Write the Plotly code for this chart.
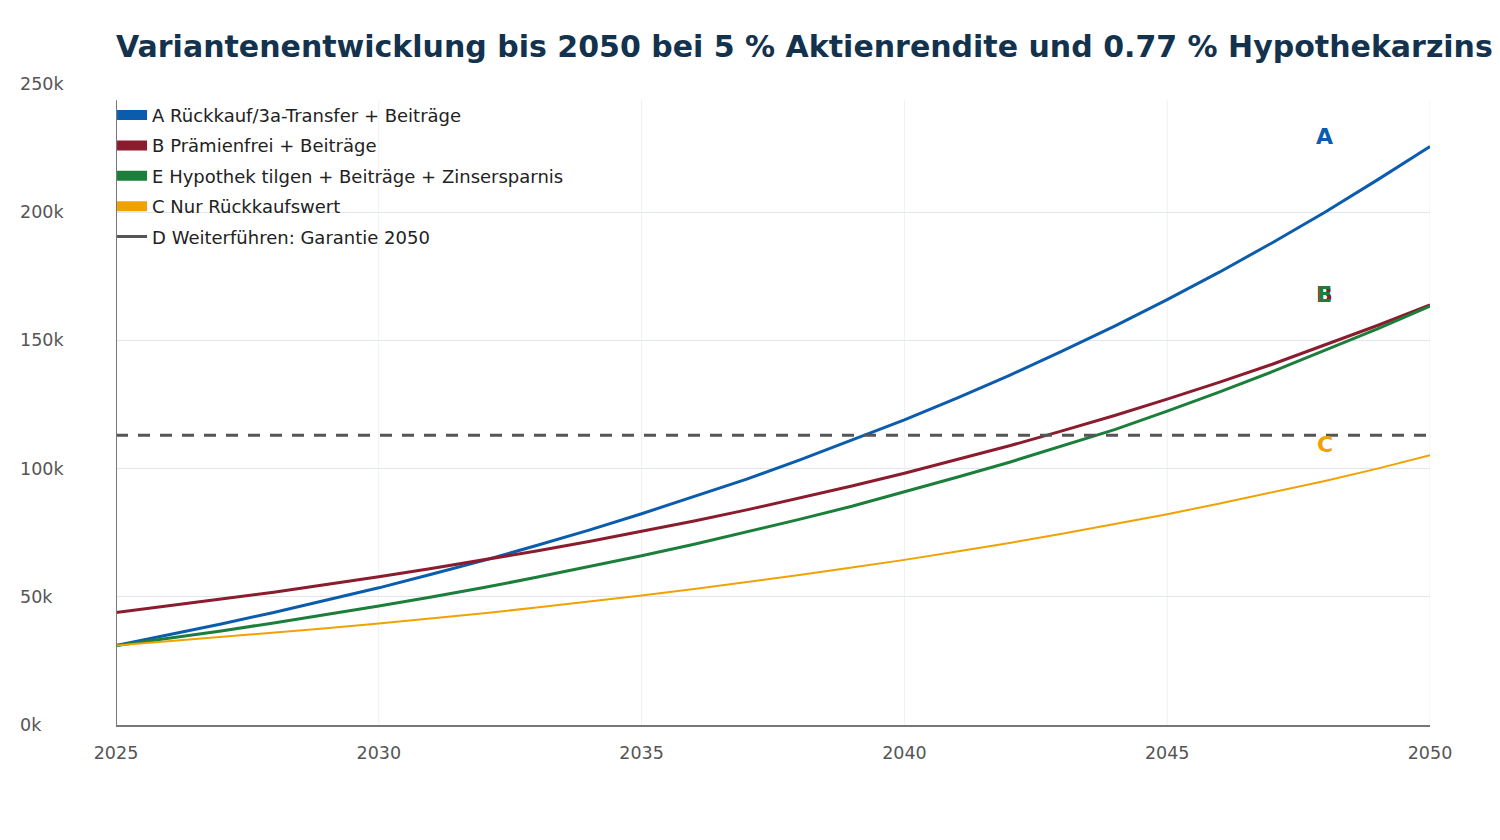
import plotly.graph_objects as go

# Jahresreihe 2025-2050, Werte in CHF
years = list(range(2025, 2051))

variante_a = [31000, 35100, 39400, 43900, 48600, 53500, 58800, 64200, 70000, 76000,
              82400, 89000, 95900, 103300, 111000, 119000, 127500, 136400, 145800, 155600,
              165900, 176700, 188100, 200000, 212600, 225600]
variante_b = [43900, 46400, 49100, 51800, 54700, 57800, 61000, 64400, 67900, 71600,
              75500, 79600, 83900, 88400, 93200, 98200, 103400, 108900, 114700, 120700,
              127100, 133700, 140700, 148100, 155800, 163800]
variante_e = [31000, 33800, 36700, 39800, 43000, 46400, 49900, 53600, 57600, 61700,
              66000, 70500, 75300, 80200, 85300, 90800, 96600, 102500, 108700, 115200,
              122400, 129900, 137800, 146100, 154500, 163400]
variante_c = [31000, 32600, 34200, 35900, 37700, 39600, 41500, 43600, 45800, 48100,
              50500, 53000, 55700, 58500, 61400, 64400, 67700, 71000, 74600, 78300,
              82200, 86400, 90700, 95200, 100000, 105200]
garantie_d = 113000

names = ["A Rückkauf/3a-Transfer + Beiträge",
         "B Prämienfrei + Beiträge",
         "E Hypothek tilgen + Beiträge + Zinsersparnis",
         "C Nur Rückkaufswert",
         "D Weiterführen: Garantie 2050"]
colors = ["#0b5cad", "#8a1c2e", "#1b7f3b", "#f0a202", "#555555"]

end_labels = ["A", "B", "E", "C"]
end_label_y = [229700, 168000, 168000, 109500]

y_ticks = [0, 50000, 100000, 150000, 200000, 250000]
y_tick_text = ["0k", "50k", "100k", "150k", "200k", "250k"]
x_ticks = [2025, 2030, 2035, 2040, 2045, 2050]

FONT = "DejaVu Sans"

fig = go.Figure()

series = [variante_a, variante_b, variante_e, variante_c]
widths = [3, 3, 3, 2]
for vals, name, col, w in zip(series, names, colors, widths):
    fig.add_trace(go.Scatter(x=years, y=vals, mode="lines", name=name,
                             line=dict(color=col, width=w), showlegend=False))

fig.add_trace(go.Scatter(x=years, y=[garantie_d] * len(years), mode="lines",
                         name=names[4], showlegend=False,
                         line=dict(color=colors[4], width=3, dash="12px,10px")))

# Legenden-Eintraege (dicke Balken wie im Original)
for i, (name, col) in enumerate(zip(names, colors)):
    fig.add_trace(go.Scatter(x=[None], y=[None], mode="lines", name=name,
                             legendgroup=f"g{i}",
                             line=dict(color=col, width=3 if i == 4 else 13)))

# Endbeschriftungen
for lab, yv, col in zip(end_labels, end_label_y, colors[:4]):
    fig.add_annotation(x=2048, y=yv, text=lab, showarrow=False,
                       font=dict(family=FONT, size=22, color=col, weight="bold"))

# y-Achsenbeschriftung linksbuendig
for v, t in zip(y_ticks, y_tick_text):
    fig.add_annotation(x=-0.0746, xref="paper", y=v, yref="y", text=t,
                       showarrow=False, xanchor="left", yanchor="middle",
                       font=dict(family=FONT, size=17.5, color="#555555"))

# vertikale Gitterlinien und linke Achse (enden unter der 250k-Linie)
grid_top = 243700
for xv in x_ticks[1:]:
    fig.add_shape(type="line", x0=xv, x1=xv, y0=0, y1=grid_top, xref="x", yref="y",
                  line=dict(color="#eef0f3", width=1), layer="below")
fig.add_shape(type="line", x0=2025, x1=2025, y0=0, y1=grid_top, xref="x", yref="y",
              line=dict(color="#777777", width=2))

fig.update_layout(
    width=1484, height=824,
    margin=dict(l=108, r=62, t=76, b=107),
    paper_bgcolor="white", plot_bgcolor="white",
    font=dict(family=FONT, size=17.5, color="#222222"),
    title=dict(text="Variantenentwicklung bis 2050 bei 5 % Aktienrendite und 0.77 % Hypothekarzins",
               x=0, xref="paper", xanchor="left", y=1 - 38 / 824, yref="container",
               yanchor="middle",
               font=dict(family=FONT, size=30, color="#13324d", weight="bold")),
    legend=dict(x=-0.003, xanchor="left", y=0.98, yanchor="top",
                bgcolor="rgba(0,0,0,0)", tracegroupgap=4,
                font=dict(family=FONT, size=18, color="#222222")),
    xaxis=dict(range=[2025, 2050], tickvals=x_ticks, showgrid=False,
               showline=True, linecolor="#777777", linewidth=2,
               zeroline=False, ticks="", ticklabelstandoff=11,
               tickfont=dict(family=FONT, size=17.5, color="#555555")),
    yaxis=dict(range=[0, 250000], tickvals=y_ticks, showticklabels=False,
               showgrid=True, gridcolor="#e1e6ec", gridwidth=1,
               showline=False, zeroline=False, ticks=""),
)

fig.write_html("out.html")
